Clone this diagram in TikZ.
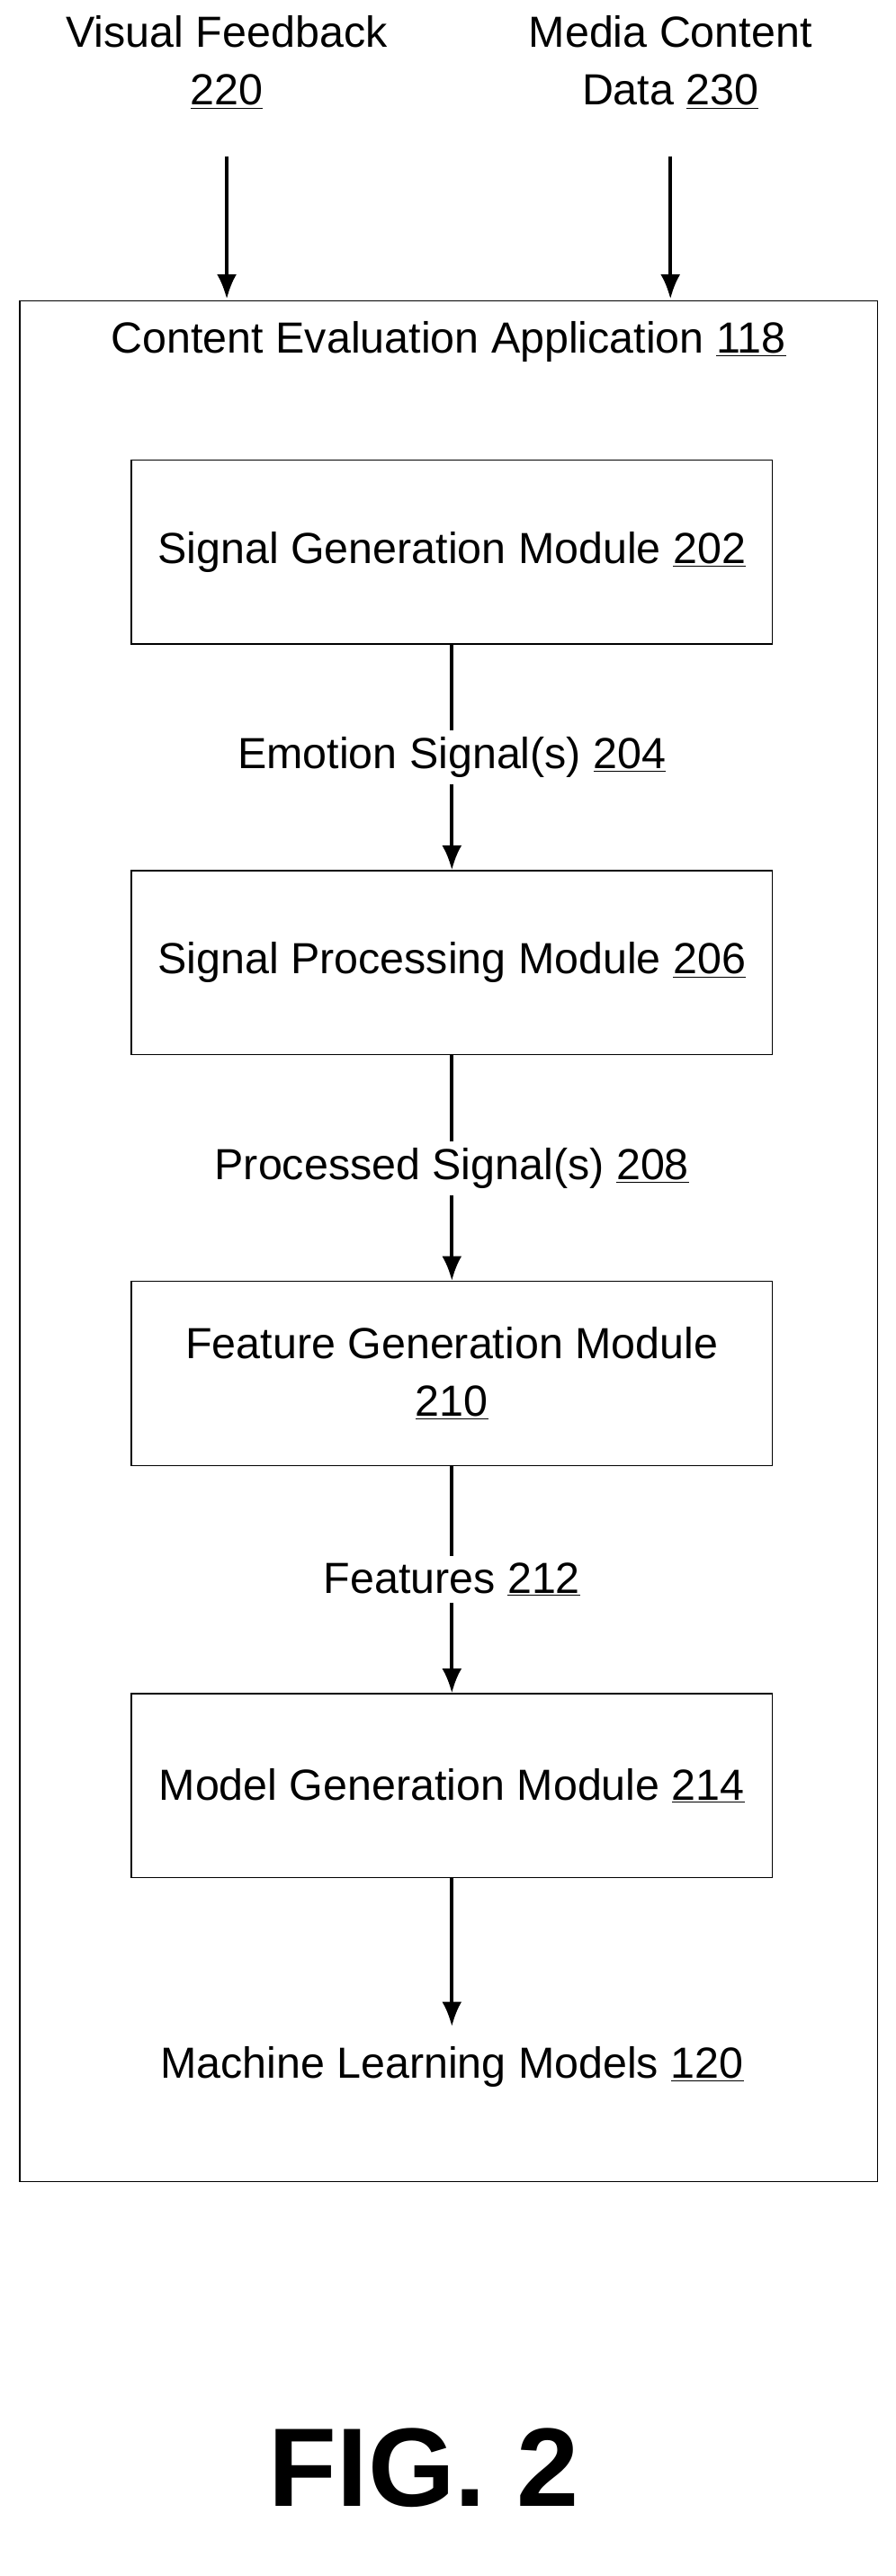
\documentclass[tikz,border=0pt]{standalone}
\usepackage{fontspec}
\setmainfont{Liberation Sans}
\usetikzlibrary{positioning,arrows.meta}
\begin{document}
\begin{tikzpicture}[x=1pt,y=-1pt]
    \tikzstyle{every node}+=[inner sep=0pt, font=\fontsize{26.5}{35}\selectfont, align=center]
    \tikzstyle{module}=[draw, line width=0.8pt, minimum width=390pt, minimum height=112pt]
    \tikzstyle{flow}=[line width=2pt, -{Latex[length=15pt,width=12pt]}]
    \useasboundingbox (0,0) rectangle (545,1568);
    % inputs
    \node (vis) at (138,38) {Visual Feedback\\\underline{220}};
    \node (media) at (408,38) {Media Content\\Data \underline{230}};
    \draw [line width=0.8pt] (12,183) rectangle (534,1328);
    \coordinate (visin) at (138,182);
    \coordinate (mediain) at (408,182);
    \draw [flow] (138,95) -- (visin);
    \draw [flow] (408,95) -- (mediain);
    \node (app) at (273,208) {Content Evaluation Application \underline{118}};
    % modules
    \node [module] (sig) at (275,336) {Signal Generation Module \underline{202}};
    \node [module] (proc) at (275,586) {Signal Processing Module \underline{206}};
    \node [module] (feat) at (275,836) {Feature Generation Module\\\underline{210}};
    \node [module] (model) at (275,1087) {Model Generation Module \underline{214}};
    \node (ml) at (275,1258) {Machine Learning Models \underline{120}};
    \draw [flow] (sig) -- node [fill=white, inner sep=4pt] {Emotion Signal(s) \underline{204}} (proc);
    \draw [flow] (proc) -- node [fill=white, inner sep=4pt] {Processed Signal(s) \underline{208}} (feat);
    \draw [flow] (feat) -- node [fill=white, inner sep=4pt] {Features \underline{212}} (model);
    \draw [flow, shorten >=12pt] (model) -- (ml.north);
    \node (fig) at (258,1502) {\fontsize{68}{70}\selectfont\bfseries FIG. 2};
\end{tikzpicture}
\end{document}
